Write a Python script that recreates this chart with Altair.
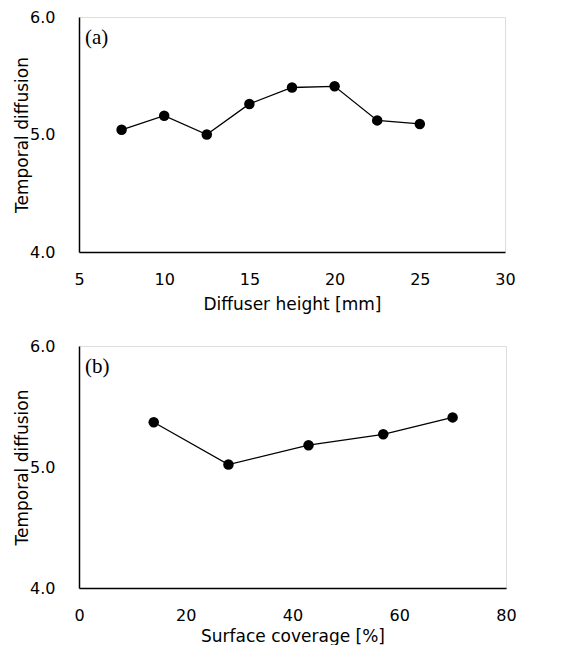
import altair as alt
import pandas as pd

# Panel (a)
height_mm = [7.5, 10, 12.5, 15, 17.5, 20, 22.5, 25]
diff_a = [5.04, 5.16, 5.00, 5.26, 5.40, 5.41, 5.12, 5.09]
# Panel (b)
coverage = [14, 28, 43, 57, 70]
diff_b = [5.37, 5.02, 5.18, 5.27, 5.41]

df_a = pd.DataFrame({"x": height_mm, "y": diff_a})
df_b = pd.DataFrame({"x": coverage, "y": diff_b})

FONT = "DejaVu Sans"

def yaxis():
    return alt.Axis(values=[4.0, 5.0, 6.0], format=".1f", title="Temporal diffusion",
                    grid=False, ticks=False, labelPadding=24, titlePadding=-2,
                    labelFontSize=16, titleFontSize=17, labelFont=FONT, titleFont=FONT,
                    labelColor="black", titleColor="black", titleFontWeight="normal",
                    domainColor="black", domainWidth=1.5, labelFlush=False)

def xaxis(vals, title, lp, tp):
    return alt.Axis(values=vals, format="d", title=title, grid=False, ticks=False,
                    labelPadding=lp, titlePadding=tp,
                    labelFontSize=16, titleFontSize=17, labelFont=FONT, titleFont=FONT,
                    labelColor="black", titleColor="black", titleFontWeight="normal",
                    domainColor="black", domainWidth=1.5, labelFlush=False)

def panel(df, xdom, xvals, xtitle, tag, w, h, lp, tp):
    base = alt.Chart(df)
    x = alt.X("x:Q", scale=alt.Scale(domain=xdom, nice=False), axis=xaxis(xvals, xtitle, lp, tp))
    y = alt.Y("y:Q", scale=alt.Scale(domain=[4.0, 6.0], nice=False), axis=yaxis())
    line = base.mark_line(color="black", strokeWidth=1.3).encode(x=x, y=y)
    pts = base.mark_circle(color="black", opacity=1, size=110).encode(x=x, y=y)
    label = alt.Chart(pd.DataFrame({"t": [tag]})).mark_text(
        font="Liberation Serif", fontSize=21, align="left", baseline="top", color="black"
    ).encode(text="t:N", x=alt.value(6), y=alt.value(10))
    return alt.layer(line, pts, label).properties(width=w, height=h)

pa = panel(df_a, [5, 30], [5, 10, 15, 20, 25, 30], "Diffuser height [mm]", "(a)", 426, 235, 19, 9)
pb = panel(df_b, [0, 80], [0, 20, 40, 60, 80], "Surface coverage [%]", "(b)", 427, 242, 19, 5)

chart = alt.vconcat(pa, pb, spacing=24).properties(
    padding={"left": 5, "top": 0, "right": 0, "bottom": 0}
).configure_view(stroke="black", strokeWidth=1.5).configure(background="white")

chart.save("out.html", embed_options={"renderer": "svg", "actions": False})
